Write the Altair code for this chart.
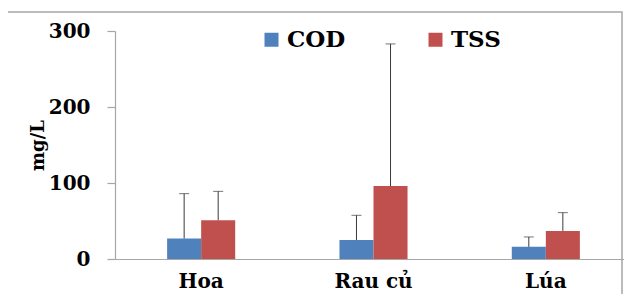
import altair as alt
import pandas as pd

categories = ["Hoa", "Rau củ", "Lúa"]
series = ["COD", "TSS"]
cod_values = [27, 25, 16]
cod_sd = [59, 32.5, 13]
tss_values = [51, 96, 37]
tss_sd = [38, 187, 24]
y_ticks = [0, 100, 200, 300]

rows = []
for i, c in enumerate(categories):
    rows.append({"cat": c, "series": "COD", "value": cod_values[i], "upper": cod_values[i] + cod_sd[i]})
    rows.append({"cat": c, "series": "TSS", "value": tss_values[i], "upper": tss_values[i] + tss_sd[i]})
df = pd.DataFrame(rows)

FONT = "DejaVu Serif"
GRAY = "#A6A6A6"

x_enc = alt.X("cat:N", sort=categories, title=None,
              scale=alt.Scale(paddingInner=0.605, paddingOuter=0.3025, range=[0, 517]),
              axis=alt.Axis(labelAngle=0, ticks=False, labelPadding=12,
                            labelFont=FONT, labelFontSize=20, labelFontWeight="bold",
                            labelColor="#000", domainColor=GRAY, domainWidth=1.2))
xoff = alt.XOffset("series:N", sort=series, scale=alt.Scale(paddingInner=0, paddingOuter=0))

base = alt.Chart(df).encode(x=x_enc, xOffset=xoff)

bars = base.mark_bar().encode(
    y=alt.Y("value:Q", title="mg/L",
            scale=alt.Scale(domain=[0, 300], nice=False),
            axis=alt.Axis(values=y_ticks, grid=False, tickSize=8, labelPadding=17,
                          tickColor=GRAY, domainColor=GRAY, domainWidth=1.2, tickWidth=1.2,
                          labelFont=FONT, labelFontSize=20, labelFontWeight="bold", labelColor="#000",
                          titleFont=FONT, titleFontSize=18, titleFontWeight="bold", titleColor="#000",
                          titleAngle=-90, titleX=-72, titleY=114, titleAlign="center",
                          titleBaseline="alphabetic")),
    color=alt.Color("series:N", sort=series,
                    scale=alt.Scale(domain=series, range=["#4F81BD", "#C0504D"]),
                    legend=alt.Legend(title=None, orient="none", direction="horizontal",
                                      legendX=145, legendY=-3, padding=0,
                                      symbolType="square", symbolSize=196, symbolStrokeWidth=0,
                                      symbolOpacity=1, labelOffset=4, columnPadding=78,
                                      labelFont=FONT, labelFontSize=23, labelFontWeight="bold",
                                      labelColor="#000")),
)

rules = base.mark_rule(color="#3A3A3A", strokeWidth=1).encode(
    y="value:Q", y2="upper:Q")
caps = base.mark_tick(color="#3A3A3A", thickness=1, size=10).encode(y="upper:Q")

border = alt.Chart(pd.DataFrame({"k": [0]})).mark_rect(
    fill=None, stroke=GRAY, strokeWidth=1.5, clip=False
).encode(x=alt.value(-109), x2=alt.value(507), y=alt.value(-19), y2=alt.value(290))

chart = alt.layer(border, bars, rules, caps).properties(
    width=509, height=228,
    autosize=alt.AutoSizeParams(type="none"),
    padding={"left": 107, "top": 23, "right": 0, "bottom": 35},
).configure_view(stroke=None)

chart.save("out.html", embed_options={"renderer": "svg", "actions": False})
